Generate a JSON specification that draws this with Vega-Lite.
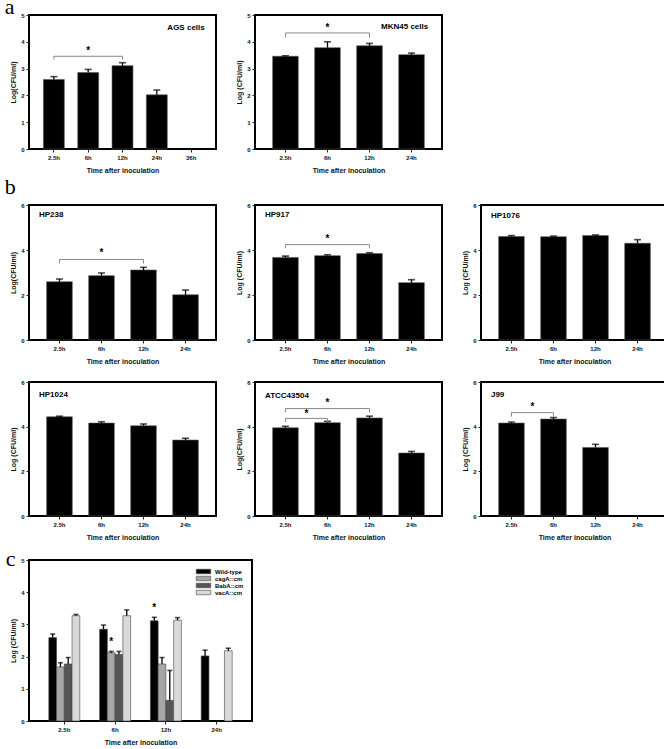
{
"$schema": "https://vega.github.io/schema/vega-lite/v6.json",
"background": "white",
"padding": {"left": 4, "top": -4, "right": 0, "bottom": 0},
"config": {
  "font": "Liberation Sans",
  "view": {"stroke": "black", "strokeWidth": 2},
  "axis": {"grid": false, "domain": false, "labelFontSize": 6, "labelFontWeight": "bold", "labelColor": "#111", "labelOverlap": false, "tickSize": 3, "tickColor": "#222", "labelPadding": 2, "titleFontSize": 7, "titleFontWeight": "bold", "titleColor": "#111"},
  "axisX": {"labelAngle": 0, "titlePadding": 6},
  "axisY": {"titlePadding": 4, "tickCount": 6, "labelOverlap": false},
  "text": {"color": "black"},
  "title": {"font": "Liberation Serif", "fontSize": 22, "fontWeight": "normal", "anchor": "start", "color": "black"},
  "concat": {"spacing": 17}
},
"datasets": {
  "d": [
    {"p":"AGS","k":"bar","time":"2.5h","v":2.59,"hi":2.70},
    {"p":"AGS","k":"bar","time":"6h","v":2.85,"hi":2.97},
    {"p":"AGS","k":"bar","time":"12h","v":3.11,"hi":3.22},
    {"p":"AGS","k":"bar","time":"24h","v":2.02,"hi":2.20},
    {"p":"AGS","k":"br","time":"2.5h","to":"12h","v":3.46,"lo":3.34},
    {"p":"AGS","k":"star","time":"6h","v":3.64},
    {"p":"AGS","k":"labR","time":"36h","v":4.5,"txt":"AGS cells"},
    {"p":"MKN45","k":"bar","time":"2.5h","v":3.46,"hi":3.48},
    {"p":"MKN45","k":"bar","time":"6h","v":3.78,"hi":4.00},
    {"p":"MKN45","k":"bar","time":"12h","v":3.85,"hi":3.94},
    {"p":"MKN45","k":"bar","time":"24h","v":3.52,"hi":3.58},
    {"p":"MKN45","k":"br","time":"2.5h","to":"12h","v":4.33,"lo":4.16},
    {"p":"MKN45","k":"star","time":"6h","v":4.52},
    {"p":"MKN45","k":"labR","time":"24h","v":4.55,"txt":"MKN45 cells"},
    {"p":"HP238","k":"bar","time":"2.5h","v":2.59,"hi":2.71},
    {"p":"HP238","k":"bar","time":"6h","v":2.86,"hi":2.98},
    {"p":"HP238","k":"bar","time":"12h","v":3.11,"hi":3.23},
    {"p":"HP238","k":"bar","time":"24h","v":2.01,"hi":2.22},
    {"p":"HP238","k":"br","time":"2.5h","to":"12h","v":3.58,"lo":3.40},
    {"p":"HP238","k":"star","time":"6h","v":3.88},
    {"p":"HP238","k":"labL","time":"2.5h","v":5.55,"txt":"HP238"},
    {"p":"HP917","k":"bar","time":"2.5h","v":3.67,"hi":3.73},
    {"p":"HP917","k":"bar","time":"6h","v":3.75,"hi":3.79},
    {"p":"HP917","k":"bar","time":"12h","v":3.84,"hi":3.88},
    {"p":"HP917","k":"bar","time":"24h","v":2.55,"hi":2.68},
    {"p":"HP917","k":"br","time":"2.5h","to":"12h","v":4.24,"lo":4.08},
    {"p":"HP917","k":"star","time":"6h","v":4.5},
    {"p":"HP917","k":"labL","time":"2.5h","v":5.55,"txt":"HP917"},
    {"p":"HP1076","k":"bar","time":"2.5h","v":4.60,"hi":4.64},
    {"p":"HP1076","k":"bar","time":"6h","v":4.59,"hi":4.62},
    {"p":"HP1076","k":"bar","time":"12h","v":4.64,"hi":4.67},
    {"p":"HP1076","k":"bar","time":"24h","v":4.30,"hi":4.46},
    {"p":"HP1076","k":"labL","time":"2.5h","v":5.52,"txt":"HP1076"},
    {"p":"HP1024","k":"bar","time":"2.5h","v":4.44,"hi":4.47},
    {"p":"HP1024","k":"bar","time":"6h","v":4.16,"hi":4.22},
    {"p":"HP1024","k":"bar","time":"12h","v":4.04,"hi":4.12},
    {"p":"HP1024","k":"bar","time":"24h","v":3.40,"hi":3.48},
    {"p":"HP1024","k":"labL","time":"2.5h","v":5.4,"txt":"HP1024"},
    {"p":"ATCC43504","k":"bar","time":"2.5h","v":3.95,"hi":4.02},
    {"p":"ATCC43504","k":"bar","time":"6h","v":4.18,"hi":4.24},
    {"p":"ATCC43504","k":"bar","time":"12h","v":4.39,"hi":4.47},
    {"p":"ATCC43504","k":"bar","time":"24h","v":2.82,"hi":2.89},
    {"p":"ATCC43504","k":"br","time":"2.5h","to":"6h","v":4.37,"lo":4.2},
    {"p":"ATCC43504","k":"br","time":"2.5h","to":"12h","v":4.81,"lo":4.64},
    {"p":"ATCC43504","k":"star2","time":"2.5h","v":4.55},
    {"p":"ATCC43504","k":"star","time":"6h","v":5.05},
    {"p":"ATCC43504","k":"labL","time":"2.5h","v":5.38,"txt":"ATCC43504"},
    {"p":"J99","k":"bar","time":"2.5h","v":4.16,"hi":4.21},
    {"p":"J99","k":"bar","time":"6h","v":4.34,"hi":4.41},
    {"p":"J99","k":"bar","time":"12h","v":3.07,"hi":3.21},
    {"p":"J99","k":"br","time":"2.5h","to":"6h","v":4.63,"lo":4.45},
    {"p":"J99","k":"star2","time":"2.5h","v":4.88},
    {"p":"J99","k":"labL","time":"2.5h","v":5.42,"txt":"J99"}
  ],
  "c": [
    {"k":"bar","time":"2.5h","s":"Wild-type","v":2.59,"hi":2.70},
    {"k":"bar","time":"2.5h","s":"cagA::cm","v":1.68,"hi":1.81},
    {"k":"bar","time":"2.5h","s":"BabA::cm","v":1.77,"hi":1.97},
    {"k":"bar","time":"2.5h","s":"vacA::cm","v":3.27,"hi":3.31},
    {"k":"bar","time":"6h","s":"Wild-type","v":2.85,"hi":2.98},
    {"k":"bar","time":"6h","s":"cagA::cm","v":2.12,"hi":2.16},
    {"k":"bar","time":"6h","s":"BabA::cm","v":2.07,"hi":2.16},
    {"k":"bar","time":"6h","s":"vacA::cm","v":3.27,"hi":3.45},
    {"k":"bar","time":"12h","s":"Wild-type","v":3.11,"hi":3.22},
    {"k":"bar","time":"12h","s":"cagA::cm","v":1.77,"hi":1.97},
    {"k":"bar","time":"12h","s":"BabA::cm","v":0.64,"hi":1.57},
    {"k":"bar","time":"12h","s":"vacA::cm","v":3.13,"hi":3.21},
    {"k":"bar","time":"24h","s":"Wild-type","v":2.02,"hi":2.20},
    {"k":"bar","time":"24h","s":"vacA::cm","v":2.18,"hi":2.26},
    {"k":"star","time":"6h","s":"cagA::cm","v":2.44},
    {"k":"star","time":"12h","s":"Wild-type","v":3.5}
  ]
},
"spacing": 2,
"resolve": {"legend": {"fill": "independent"}},
"vconcat": [
  {
    "title": {"text": "a", "offset": -8, "dx": -4},
    "hconcat": [
      {
        "width": 187, "height": 134,
        "data": {"name": "d"},
        "transform": [{"filter": "datum.p === 'AGS'"}],
        "encoding": {"x": {"field": "time", "type": "nominal", "sort": null, "scale": {"domain": ["2.5h","6h","12h","24h","36h"], "paddingInner": 0.39, "paddingOuter": 0.42}, "axis": {"title": "Time after inoculation"}}},
        "layer": [
          {"transform": [{"filter": "datum.k === 'bar'"}], "mark": {"type": "bar", "color": "black", "stroke": "#555", "strokeWidth": 0.6}, "encoding": {"y": {"field": "v", "type": "quantitative", "scale": {"domain": [0,5]}, "axis": {"title": "Log(CFU/ml)", "values": [0,1,2,3,4,5]}}}},
          {"transform": [{"filter": "datum.k === 'bar'"}], "mark": {"type": "rule", "color": "black", "strokeWidth": 1.3}, "encoding": {"y": {"field": "v", "type": "quantitative"}, "y2": {"field": "hi"}}},
          {"transform": [{"filter": "datum.k === 'bar'"}], "mark": {"type": "tick", "color": "black", "thickness": 1.6, "size": 7}, "encoding": {"y": {"field": "hi", "type": "quantitative"}}},
          {"transform": [{"filter": "datum.k === 'br'"}], "mark": {"type": "rule", "color": "#888", "strokeWidth": 1}, "encoding": {"x2": {"field": "to"}, "y": {"field": "v", "type": "quantitative"}}},
          {"transform": [{"filter": "datum.k === 'br'"}], "mark": {"type": "rule", "color": "#888", "strokeWidth": 1}, "encoding": {"y": {"field": "v", "type": "quantitative"}, "y2": {"field": "lo"}}},
          {"transform": [{"filter": "datum.k === 'br'"}], "mark": {"type": "rule", "color": "#888", "strokeWidth": 1}, "encoding": {"x": {"field": "to", "type": "nominal", "sort": null, "scale": {"domain": ["2.5h","6h","12h","24h","36h"]}, "axis": {"title": "Time after inoculation"}}, "y": {"field": "v", "type": "quantitative"}, "y2": {"field": "lo"}}},
          {"transform": [{"filter": "datum.k === 'star'"}], "mark": {"type": "text", "text": "*", "fontSize": 10, "fontWeight": "bold", "baseline": "middle", "color": "black"}, "encoding": {"y": {"field": "v", "type": "quantitative"}}},
          {"transform": [{"filter": "datum.k === 'labR'"}], "mark": {"type": "text", "align": "right", "baseline": "middle", "fontSize": 8, "fontWeight": "bold", "color": "black"}, "encoding": {"x": {"field": "time", "type": "nominal", "sort": null, "bandPosition": 1.15, "scale": {"domain": ["2.5h","6h","12h","24h","36h"]}, "axis": {"title": "Time after inoculation"}}, "y": {"field": "v", "type": "quantitative"}, "text": {"field": "txt"}}}
        ]
      },
      {
        "width": 187, "height": 134,
        "data": {"name": "d"},
        "transform": [{"filter": "datum.p === 'MKN45'"}],
        "encoding": {"x": {"field": "time", "type": "nominal", "sort": null, "scale": {"domain": ["2.5h","6h","12h","24h"], "paddingInner": 0.39, "paddingOuter": 0.42}, "axis": {"title": "Time after inoculation"}}},
        "layer": [
          {"transform": [{"filter": "datum.k === 'bar'"}], "mark": {"type": "bar", "color": "black", "stroke": "#555", "strokeWidth": 0.6}, "encoding": {"y": {"field": "v", "type": "quantitative", "scale": {"domain": [0,5]}, "axis": {"title": "Log (CFU/ml)", "values": [0,1,2,3,4,5]}}}},
          {"transform": [{"filter": "datum.k === 'bar'"}], "mark": {"type": "rule", "color": "black", "strokeWidth": 1.3}, "encoding": {"y": {"field": "v", "type": "quantitative"}, "y2": {"field": "hi"}}},
          {"transform": [{"filter": "datum.k === 'bar'"}], "mark": {"type": "tick", "color": "black", "thickness": 1.6, "size": 7}, "encoding": {"y": {"field": "hi", "type": "quantitative"}}},
          {"transform": [{"filter": "datum.k === 'br'"}], "mark": {"type": "rule", "color": "#888", "strokeWidth": 1}, "encoding": {"x2": {"field": "to"}, "y": {"field": "v", "type": "quantitative"}}},
          {"transform": [{"filter": "datum.k === 'br'"}], "mark": {"type": "rule", "color": "#888", "strokeWidth": 1}, "encoding": {"y": {"field": "v", "type": "quantitative"}, "y2": {"field": "lo"}}},
          {"transform": [{"filter": "datum.k === 'br'"}], "mark": {"type": "rule", "color": "#888", "strokeWidth": 1}, "encoding": {"x": {"field": "to", "type": "nominal", "sort": null, "scale": {"domain": ["2.5h","6h","12h","24h"]}, "axis": {"title": "Time after inoculation"}}, "y": {"field": "v", "type": "quantitative"}, "y2": {"field": "lo"}}},
          {"transform": [{"filter": "datum.k === 'star'"}], "mark": {"type": "text", "text": "*", "fontSize": 10, "fontWeight": "bold", "baseline": "middle", "color": "black"}, "encoding": {"y": {"field": "v", "type": "quantitative"}}},
          {"transform": [{"filter": "datum.k === 'labR'"}], "mark": {"type": "text", "align": "right", "baseline": "middle", "fontSize": 8, "fontWeight": "bold", "color": "black"}, "encoding": {"x": {"field": "time", "type": "nominal", "sort": null, "bandPosition": 1.15, "scale": {"domain": ["2.5h","6h","12h","24h"]}, "axis": {"title": "Time after inoculation"}}, "y": {"field": "v", "type": "quantitative"}, "text": {"field": "txt"}}}
        ]
      }
    ]
  },
  {
    "spacing": 6,
    "resolve": {"legend": {"fill": "independent"}},
    "vconcat": [
      {
        "title": {"text": "b", "offset": 2, "dx": -4},
        "spacing": 13,
        "vconcat": [
          {
            "hconcat": [
              {
                "width": 187, "height": 135,
                "data": {"name": "d"},
                "transform": [{"filter": "datum.p === 'HP238'"}],
                "encoding": {"x": {"field": "time", "type": "nominal", "sort": null, "scale": {"domain": ["2.5h","6h","12h","24h"], "paddingInner": 0.39, "paddingOuter": 0.42}, "axis": {"title": "Time after inoculation"}}},
                "layer": [
                  {"transform": [{"filter": "datum.k === 'bar'"}], "mark": {"type": "bar", "color": "black", "stroke": "#555", "strokeWidth": 0.6}, "encoding": {"y": {"field": "v", "type": "quantitative", "scale": {"domain": [0,6]}, "axis": {"title": "Log(CFU/ml)", "values": [0,1,2,3,4,5,6]}}}},
                  {"transform": [{"filter": "datum.k === 'bar'"}], "mark": {"type": "rule", "color": "black", "strokeWidth": 1.3}, "encoding": {"y": {"field": "v", "type": "quantitative"}, "y2": {"field": "hi"}}},
                  {"transform": [{"filter": "datum.k === 'bar'"}], "mark": {"type": "tick", "color": "black", "thickness": 1.6, "size": 7}, "encoding": {"y": {"field": "hi", "type": "quantitative"}}},
                  {"transform": [{"filter": "datum.k === 'br'"}], "mark": {"type": "rule", "color": "#888", "strokeWidth": 1}, "encoding": {"x2": {"field": "to"}, "y": {"field": "v", "type": "quantitative"}}},
                  {"transform": [{"filter": "datum.k === 'br'"}], "mark": {"type": "rule", "color": "#888", "strokeWidth": 1}, "encoding": {"y": {"field": "v", "type": "quantitative"}, "y2": {"field": "lo"}}},
                  {"transform": [{"filter": "datum.k === 'br'"}], "mark": {"type": "rule", "color": "#888", "strokeWidth": 1}, "encoding": {"x": {"field": "to", "type": "nominal", "sort": null, "scale": {"domain": ["2.5h","6h","12h","24h"]}, "axis": {"title": "Time after inoculation"}}, "y": {"field": "v", "type": "quantitative"}, "y2": {"field": "lo"}}},
                  {"transform": [{"filter": "datum.k === 'star'"}], "mark": {"type": "text", "text": "*", "fontSize": 10, "fontWeight": "bold", "baseline": "middle", "color": "black"}, "encoding": {"y": {"field": "v", "type": "quantitative"}}},
                  {"transform": [{"filter": "datum.k === 'labL'"}], "mark": {"type": "text", "align": "left", "baseline": "middle", "fontSize": 8, "fontWeight": "bold", "color": "black"}, "encoding": {"x": {"field": "time", "type": "nominal", "sort": null, "bandPosition": -0.3, "scale": {"domain": ["2.5h","6h","12h","24h"]}, "axis": {"title": "Time after inoculation"}}, "y": {"field": "v", "type": "quantitative"}, "text": {"field": "txt"}}}
                ]
              },
              {
                "width": 187, "height": 135,
                "data": {"name": "d"},
                "transform": [{"filter": "datum.p === 'HP917'"}],
                "encoding": {"x": {"field": "time", "type": "nominal", "sort": null, "scale": {"domain": ["2.5h","6h","12h","24h"], "paddingInner": 0.39, "paddingOuter": 0.42}, "axis": {"title": "Time after inoculation"}}},
                "layer": [
                  {"transform": [{"filter": "datum.k === 'bar'"}], "mark": {"type": "bar", "color": "black", "stroke": "#555", "strokeWidth": 0.6}, "encoding": {"y": {"field": "v", "type": "quantitative", "scale": {"domain": [0,6]}, "axis": {"title": "Log (CFU/ml)", "values": [0,1,2,3,4,5,6]}}}},
                  {"transform": [{"filter": "datum.k === 'bar'"}], "mark": {"type": "rule", "color": "black", "strokeWidth": 1.3}, "encoding": {"y": {"field": "v", "type": "quantitative"}, "y2": {"field": "hi"}}},
                  {"transform": [{"filter": "datum.k === 'bar'"}], "mark": {"type": "tick", "color": "black", "thickness": 1.6, "size": 7}, "encoding": {"y": {"field": "hi", "type": "quantitative"}}},
                  {"transform": [{"filter": "datum.k === 'br'"}], "mark": {"type": "rule", "color": "#888", "strokeWidth": 1}, "encoding": {"x2": {"field": "to"}, "y": {"field": "v", "type": "quantitative"}}},
                  {"transform": [{"filter": "datum.k === 'br'"}], "mark": {"type": "rule", "color": "#888", "strokeWidth": 1}, "encoding": {"y": {"field": "v", "type": "quantitative"}, "y2": {"field": "lo"}}},
                  {"transform": [{"filter": "datum.k === 'br'"}], "mark": {"type": "rule", "color": "#888", "strokeWidth": 1}, "encoding": {"x": {"field": "to", "type": "nominal", "sort": null, "scale": {"domain": ["2.5h","6h","12h","24h"]}, "axis": {"title": "Time after inoculation"}}, "y": {"field": "v", "type": "quantitative"}, "y2": {"field": "lo"}}},
                  {"transform": [{"filter": "datum.k === 'star'"}], "mark": {"type": "text", "text": "*", "fontSize": 10, "fontWeight": "bold", "baseline": "middle", "color": "black"}, "encoding": {"y": {"field": "v", "type": "quantitative"}}},
                  {"transform": [{"filter": "datum.k === 'labL'"}], "mark": {"type": "text", "align": "left", "baseline": "middle", "fontSize": 8, "fontWeight": "bold", "color": "black"}, "encoding": {"x": {"field": "time", "type": "nominal", "sort": null, "bandPosition": -0.3, "scale": {"domain": ["2.5h","6h","12h","24h"]}, "axis": {"title": "Time after inoculation"}}, "y": {"field": "v", "type": "quantitative"}, "text": {"field": "txt"}}}
                ]
              },
              {
                "width": 187, "height": 135,
                "data": {"name": "d"},
                "transform": [{"filter": "datum.p === 'HP1076'"}],
                "encoding": {"x": {"field": "time", "type": "nominal", "sort": null, "scale": {"domain": ["2.5h","6h","12h","24h"], "paddingInner": 0.39, "paddingOuter": 0.42}, "axis": {"title": "Time after inoculation"}}},
                "layer": [
                  {"transform": [{"filter": "datum.k === 'bar'"}], "mark": {"type": "bar", "color": "black", "stroke": "#555", "strokeWidth": 0.6}, "encoding": {"y": {"field": "v", "type": "quantitative", "scale": {"domain": [0,6]}, "axis": {"title": "Log (CFU/ml)", "values": [0,1,2,3,4,5,6]}}}},
                  {"transform": [{"filter": "datum.k === 'bar'"}], "mark": {"type": "rule", "color": "black", "strokeWidth": 1.3}, "encoding": {"y": {"field": "v", "type": "quantitative"}, "y2": {"field": "hi"}}},
                  {"transform": [{"filter": "datum.k === 'bar'"}], "mark": {"type": "tick", "color": "black", "thickness": 1.6, "size": 7}, "encoding": {"y": {"field": "hi", "type": "quantitative"}}},
                  {"transform": [{"filter": "datum.k === 'labL'"}], "mark": {"type": "text", "align": "left", "baseline": "middle", "fontSize": 8, "fontWeight": "bold", "color": "black"}, "encoding": {"x": {"field": "time", "type": "nominal", "sort": null, "bandPosition": -0.3, "scale": {"domain": ["2.5h","6h","12h","24h"]}, "axis": {"title": "Time after inoculation"}}, "y": {"field": "v", "type": "quantitative"}, "text": {"field": "txt"}}}
                ]
              }
            ]
          },
          {
            "hconcat": [
              {
                "width": 187, "height": 134,
                "data": {"name": "d"},
                "transform": [{"filter": "datum.p === 'HP1024'"}],
                "encoding": {"x": {"field": "time", "type": "nominal", "sort": null, "scale": {"domain": ["2.5h","6h","12h","24h"], "paddingInner": 0.39, "paddingOuter": 0.42}, "axis": {"title": "Time after inoculation"}}},
                "layer": [
                  {"transform": [{"filter": "datum.k === 'bar'"}], "mark": {"type": "bar", "color": "black", "stroke": "#555", "strokeWidth": 0.6}, "encoding": {"y": {"field": "v", "type": "quantitative", "scale": {"domain": [0,6]}, "axis": {"title": "Log (CFU/ml)", "values": [0,1,2,3,4,5,6]}}}},
                  {"transform": [{"filter": "datum.k === 'bar'"}], "mark": {"type": "rule", "color": "black", "strokeWidth": 1.3}, "encoding": {"y": {"field": "v", "type": "quantitative"}, "y2": {"field": "hi"}}},
                  {"transform": [{"filter": "datum.k === 'bar'"}], "mark": {"type": "tick", "color": "black", "thickness": 1.6, "size": 7}, "encoding": {"y": {"field": "hi", "type": "quantitative"}}},
                  {"transform": [{"filter": "datum.k === 'labL'"}], "mark": {"type": "text", "align": "left", "baseline": "middle", "fontSize": 8, "fontWeight": "bold", "color": "black"}, "encoding": {"x": {"field": "time", "type": "nominal", "sort": null, "bandPosition": -0.3, "scale": {"domain": ["2.5h","6h","12h","24h"]}, "axis": {"title": "Time after inoculation"}}, "y": {"field": "v", "type": "quantitative"}, "text": {"field": "txt"}}}
                ]
              },
              {
                "width": 187, "height": 134,
                "data": {"name": "d"},
                "transform": [{"filter": "datum.p === 'ATCC43504'"}],
                "encoding": {"x": {"field": "time", "type": "nominal", "sort": null, "scale": {"domain": ["2.5h","6h","12h","24h"], "paddingInner": 0.39, "paddingOuter": 0.42}, "axis": {"title": "Time after inoculation"}}},
                "layer": [
                  {"transform": [{"filter": "datum.k === 'bar'"}], "mark": {"type": "bar", "color": "black", "stroke": "#555", "strokeWidth": 0.6}, "encoding": {"y": {"field": "v", "type": "quantitative", "scale": {"domain": [0,6]}, "axis": {"title": "Log(CFU/ml)", "values": [0,1,2,3,4,5,6]}}}},
                  {"transform": [{"filter": "datum.k === 'bar'"}], "mark": {"type": "rule", "color": "black", "strokeWidth": 1.3}, "encoding": {"y": {"field": "v", "type": "quantitative"}, "y2": {"field": "hi"}}},
                  {"transform": [{"filter": "datum.k === 'bar'"}], "mark": {"type": "tick", "color": "black", "thickness": 1.6, "size": 7}, "encoding": {"y": {"field": "hi", "type": "quantitative"}}},
                  {"transform": [{"filter": "datum.k === 'br'"}], "mark": {"type": "rule", "color": "#888", "strokeWidth": 1}, "encoding": {"x2": {"field": "to"}, "y": {"field": "v", "type": "quantitative"}}},
                  {"transform": [{"filter": "datum.k === 'br'"}], "mark": {"type": "rule", "color": "#888", "strokeWidth": 1}, "encoding": {"y": {"field": "v", "type": "quantitative"}, "y2": {"field": "lo"}}},
                  {"transform": [{"filter": "datum.k === 'br'"}], "mark": {"type": "rule", "color": "#888", "strokeWidth": 1}, "encoding": {"x": {"field": "to", "type": "nominal", "sort": null, "scale": {"domain": ["2.5h","6h","12h","24h"]}, "axis": {"title": "Time after inoculation"}}, "y": {"field": "v", "type": "quantitative"}, "y2": {"field": "lo"}}},
                  {"transform": [{"filter": "datum.k === 'star'"}], "mark": {"type": "text", "text": "*", "fontSize": 10, "fontWeight": "bold", "baseline": "middle", "color": "black"}, "encoding": {"y": {"field": "v", "type": "quantitative"}}},
                  {"transform": [{"filter": "datum.k === 'star2'"}], "mark": {"type": "text", "text": "*", "fontSize": 10, "fontWeight": "bold", "baseline": "middle", "color": "black"}, "encoding": {"x": {"field": "time", "type": "nominal", "sort": null, "bandPosition": 1.32, "scale": {"domain": ["2.5h","6h","12h","24h"]}, "axis": {"title": "Time after inoculation"}}, "y": {"field": "v", "type": "quantitative"}}},
                  {"transform": [{"filter": "datum.k === 'labL'"}], "mark": {"type": "text", "align": "left", "baseline": "middle", "fontSize": 8, "fontWeight": "bold", "color": "black"}, "encoding": {"x": {"field": "time", "type": "nominal", "sort": null, "bandPosition": -0.3, "scale": {"domain": ["2.5h","6h","12h","24h"]}, "axis": {"title": "Time after inoculation"}}, "y": {"field": "v", "type": "quantitative"}, "text": {"field": "txt"}}}
                ]
              },
              {
                "width": 187, "height": 134,
                "data": {"name": "d"},
                "transform": [{"filter": "datum.p === 'J99'"}],
                "encoding": {"x": {"field": "time", "type": "nominal", "sort": null, "scale": {"domain": ["2.5h","6h","12h","24h"], "paddingInner": 0.39, "paddingOuter": 0.42}, "axis": {"title": "Time after inoculation"}}},
                "layer": [
                  {"transform": [{"filter": "datum.k === 'bar'"}], "mark": {"type": "bar", "color": "black", "stroke": "#555", "strokeWidth": 0.6}, "encoding": {"y": {"field": "v", "type": "quantitative", "scale": {"domain": [0,6]}, "axis": {"title": "Log (CFU/ml)", "values": [0,1,2,3,4,5,6]}}}},
                  {"transform": [{"filter": "datum.k === 'bar'"}], "mark": {"type": "rule", "color": "black", "strokeWidth": 1.3}, "encoding": {"y": {"field": "v", "type": "quantitative"}, "y2": {"field": "hi"}}},
                  {"transform": [{"filter": "datum.k === 'bar'"}], "mark": {"type": "tick", "color": "black", "thickness": 1.6, "size": 7}, "encoding": {"y": {"field": "hi", "type": "quantitative"}}},
                  {"transform": [{"filter": "datum.k === 'br'"}], "mark": {"type": "rule", "color": "#888", "strokeWidth": 1}, "encoding": {"x2": {"field": "to"}, "y": {"field": "v", "type": "quantitative"}}},
                  {"transform": [{"filter": "datum.k === 'br'"}], "mark": {"type": "rule", "color": "#888", "strokeWidth": 1}, "encoding": {"y": {"field": "v", "type": "quantitative"}, "y2": {"field": "lo"}}},
                  {"transform": [{"filter": "datum.k === 'br'"}], "mark": {"type": "rule", "color": "#888", "strokeWidth": 1}, "encoding": {"x": {"field": "to", "type": "nominal", "sort": null, "scale": {"domain": ["2.5h","6h","12h","24h"]}, "axis": {"title": "Time after inoculation"}}, "y": {"field": "v", "type": "quantitative"}, "y2": {"field": "lo"}}},
                  {"transform": [{"filter": "datum.k === 'star2'"}], "mark": {"type": "text", "text": "*", "fontSize": 10, "fontWeight": "bold", "baseline": "middle", "color": "black"}, "encoding": {"x": {"field": "time", "type": "nominal", "sort": null, "bandPosition": 1.32, "scale": {"domain": ["2.5h","6h","12h","24h"]}, "axis": {"title": "Time after inoculation"}}, "y": {"field": "v", "type": "quantitative"}}},
                  {"transform": [{"filter": "datum.k === 'labL'"}], "mark": {"type": "text", "align": "left", "baseline": "middle", "fontSize": 8, "fontWeight": "bold", "color": "black"}, "encoding": {"x": {"field": "time", "type": "nominal", "sort": null, "bandPosition": -0.3, "scale": {"domain": ["2.5h","6h","12h","24h"]}, "axis": {"title": "Time after inoculation"}}, "y": {"field": "v", "type": "quantitative"}, "text": {"field": "txt"}}}
                ]
              }
            ]
          }
        ]
      },
      {
        "title": {"text": "c", "offset": -14, "dx": -4},
        "width": 223, "height": 161,
        "data": {"name": "c"},
        "encoding": {
          "x": {"field": "time", "type": "nominal", "sort": null, "scale": {"domain": ["2.5h","6h","12h","24h"], "paddingInner": 0.39, "paddingOuter": 0.39}, "axis": {"title": "Time after inoculation"}},
          "xOffset": {"field": "s", "type": "nominal", "sort": null, "scale": {"domain": ["Wild-type","cagA::cm","BabA::cm","vacA::cm"], "paddingInner": 0, "paddingOuter": 0}}
        },
        "layer": [
          {"transform": [{"filter": "datum.k === 'bar'"}], "mark": {"type": "bar", "stroke": "#444", "strokeWidth": 0.6}, "encoding": {
            "y": {"field": "v", "type": "quantitative", "scale": {"domain": [0,5]}, "axis": {"title": "Log (CFU/ml)", "values": [0,1,2,3,4,5]}},
            "fill": {"field": "s", "type": "nominal", "sort": null, "scale": {"domain": ["Wild-type","cagA::cm","BabA::cm","vacA::cm"], "range": ["#000000","#a6a6a6","#555555","#d9d9d9"]},
              "legend": {"title": null, "orient": "top-right", "offset": 8, "padding": 0, "rowPadding": 0, "labelFontSize": 6, "labelFontWeight": "bold", "labelOffset": 8, "symbolType": "M-2.4,-0.75H2.4V0.75H-2.4Z", "symbolSize": 36, "symbolStrokeColor": "#444", "symbolStrokeWidth": 0.6}}}},
          {"transform": [{"filter": "datum.k === 'bar'"}], "mark": {"type": "rule", "color": "black", "strokeWidth": 1.3}, "encoding": {"y": {"field": "v", "type": "quantitative"}, "y2": {"field": "hi"}}},
          {"transform": [{"filter": "datum.k === 'bar'"}], "mark": {"type": "tick", "color": "black", "thickness": 1.6, "size": 5}, "encoding": {"y": {"field": "hi", "type": "quantitative"}}},
          {"transform": [{"filter": "datum.k === 'star'"}], "mark": {"type": "text", "text": "*", "fontSize": 10, "fontWeight": "bold", "baseline": "middle", "color": "black"}, "encoding": {"y": {"field": "v", "type": "quantitative"}}}
        ]
      }
    ]
  }
]
}
